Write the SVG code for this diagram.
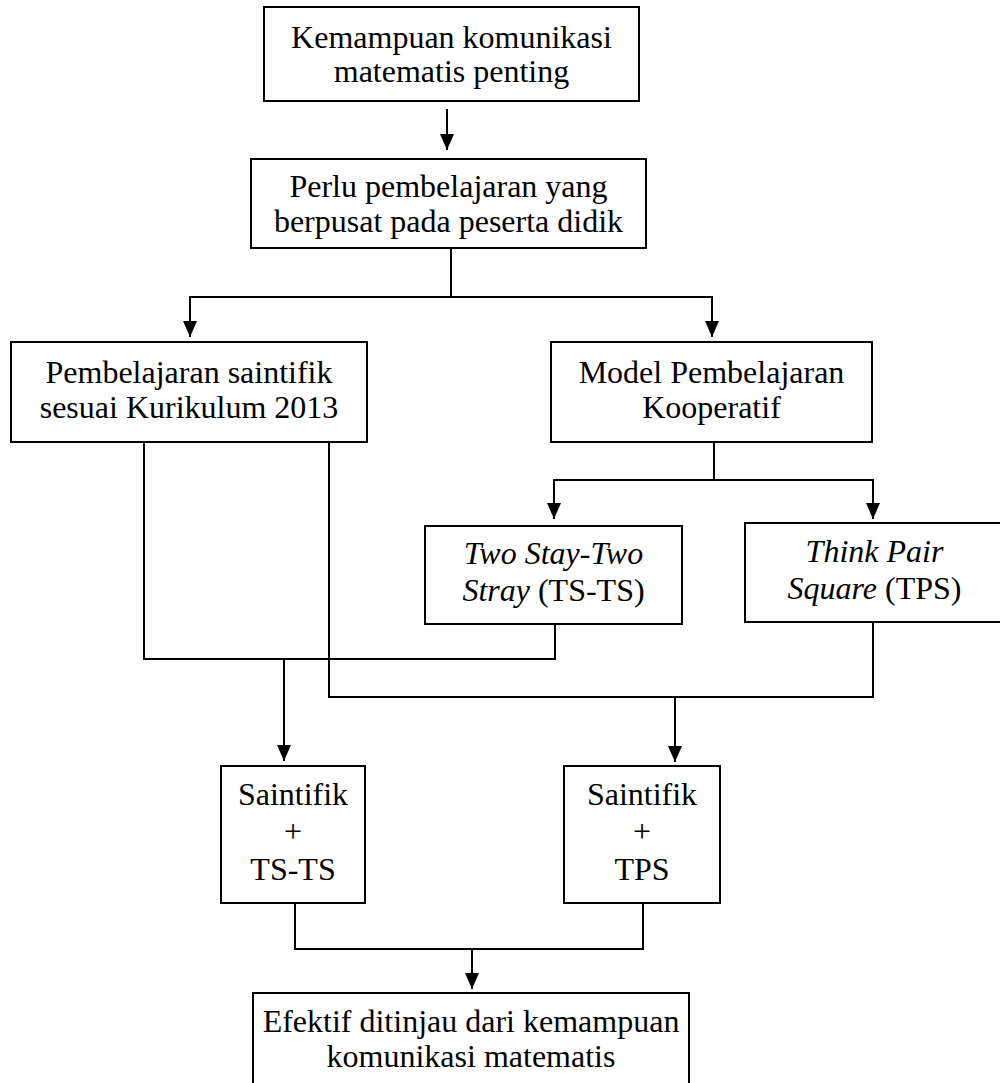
<svg xmlns="http://www.w3.org/2000/svg" width="1000" height="1083" viewBox="0 0 1000 1083">
<style>
.box{fill:#fff;stroke:#000;stroke-width:2}
.t{font-family:"Liberation Serif","Times New Roman",serif;font-size:32px;fill:#000;text-anchor:middle}
.i{font-style:italic}
.c{fill:none;stroke:#000;stroke-width:2}
</style>
<defs>
<marker id="ah" viewBox="0 0 16 14" markerWidth="16" markerHeight="14" refX="16" refY="7" orient="auto" markerUnits="userSpaceOnUse">
<path d="M0,0 L16,7 L0,14 z" fill="#000"/>
</marker>
</defs>
<rect width="1000" height="1083" fill="#fff"/>
<g id="connectors">
<line class="c" x1="447" y1="109" x2="447" y2="150" marker-end="url(#ah)"/>
<path class="c" d="M451,248 V297 H190 V337" marker-end="url(#ah)"/>
<path class="c" d="M451,297 H712 V337" marker-end="url(#ah)"/>
<path class="c" d="M714,442 V480 H554 V519" marker-end="url(#ah)"/>
<path class="c" d="M714,480 H873 V519" marker-end="url(#ah)"/>
<path class="c" d="M144,442 V659 H555 V624"/>
<line class="c" x1="284" y1="659" x2="284" y2="761" marker-end="url(#ah)"/>
<path class="c" d="M329,442 V697 H873 V622"/>
<line class="c" x1="675" y1="697" x2="675" y2="762" marker-end="url(#ah)"/>
<path class="c" d="M295,903 V949 H643 V903"/>
<line class="c" x1="472" y1="949" x2="472" y2="989" marker-end="url(#ah)"/>
</g>
<g id="n1">
<rect class="box" x="264" y="7" width="375" height="94"/>
<text class="t" x="451.5" y="48">Kemampuan komunikasi</text>
<text class="t" x="451.5" y="82">matematis penting</text>
</g>
<g id="n2">
<rect class="box" x="251" y="159" width="395" height="89"/>
<text class="t" x="448.5" y="197">Perlu pembelajaran yang</text>
<text class="t" x="448.5" y="232">berpusat pada peserta didik</text>
</g>
<g id="n3">
<rect class="box" x="11" y="342" width="356" height="100"/>
<text class="t" x="189" y="383">Pembelajaran saintifik</text>
<text class="t" x="189" y="418">sesuai Kurikulum 2013</text>
</g>
<g id="n4">
<rect class="box" x="551" y="342" width="321" height="100"/>
<text class="t" x="711.5" y="383">Model Pembelajaran</text>
<text class="t" x="711.5" y="418">Kooperatif</text>
</g>
<g id="n5">
<rect class="box" x="425" y="526" width="257" height="98"/>
<text class="t" x="553.5" y="564"><tspan class="i">Two Stay-Two</tspan></text>
<text class="t" x="553.5" y="601"><tspan class="i">Stray</tspan> (TS-TS)</text>
</g>
<g id="n6">
<rect class="box" x="745" y="523" width="260" height="99"/>
<text class="t" x="874.5" y="562"><tspan class="i">Think Pair</tspan></text>
<text class="t" x="874.5" y="599"><tspan class="i">Square</tspan> (TPS)</text>
</g>
<g id="n7">
<rect class="box" x="221" y="766" width="144" height="137"/>
<text class="t" x="293" y="805">Saintifik</text>
<text class="t" x="293" y="842">+</text>
<text class="t" x="293" y="880">TS-TS</text>
</g>
<g id="n8">
<rect class="box" x="564" y="766" width="156" height="137"/>
<text class="t" x="642" y="805">Saintifik</text>
<text class="t" x="642" y="842">+</text>
<text class="t" x="642" y="880">TPS</text>
</g>
<g id="n9">
<rect class="box" x="253" y="993" width="436" height="100"/>
<text class="t" x="471" y="1032">Efektif ditinjau dari kemampuan</text>
<text class="t" x="471" y="1067">komunikasi matematis</text>
</g>
</svg>
